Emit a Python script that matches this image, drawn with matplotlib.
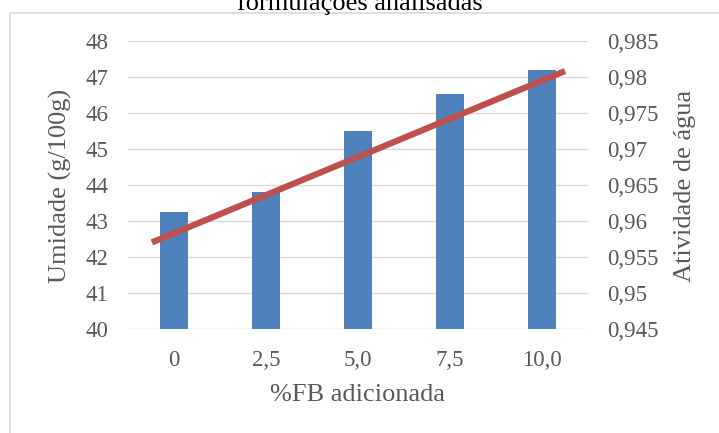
import matplotlib
matplotlib.use("Agg")
import matplotlib.pyplot as plt
import matplotlib.patheffects as pe
from matplotlib.patches import Rectangle
from matplotlib.ticker import FuncFormatter, MultipleLocator
import numpy as np

categories = ["0", "2,5", "5,0", "7,5", "10,0"]
umidade = [43.26, 43.80, 45.49, 46.54, 47.19]
atividade_agua = [0.9583, 0.9636, 0.9689, 0.9742, 0.9795]

BLUE = "#4F81BD"
RED = "#C0504D"
TEXT = "#595959"
GRID = "#D9D9D9"
W, H = 719, 433

plt.rcParams["font.family"] = ["Liberation Serif", "DejaVu Serif"]


def comma(v, _pos=None):
    return f"{round(v, 3):g}".replace(".", ",")


fig = plt.figure(figsize=(W / 100, H / 100), dpi=100)
ax = fig.add_axes([128 / W, 1 - 329 / H, 460 / W, 288 / H])
ax2 = ax.twinx()

# chart border (cut off on the right and bottom)
fig.patches.append(Rectangle((10 / W, -0.1), 1.2, 1 - 13 / H + 0.1,
                             transform=fig.transFigure, fill=False,
                             edgecolor=GRID, linewidth=1.2))
fig.text(0.5, 1 - 10 / H, "formulações analisadas", ha="center", va="baseline",
         fontsize=19, color="black")

x = np.arange(len(categories))
ax.bar(x, umidade, width=0.315, color=BLUE, zorder=2)
ax.set_xlim(-0.5, len(categories) - 0.5)
ax.set_ylim(40, 48)
ax.yaxis.set_major_locator(MultipleLocator(1))
ax.set_xticks(x)
ax.set_xticklabels(categories)
ax.grid(axis="y", color=GRID, linewidth=1, zorder=0)
ax.set_axisbelow(True)

# linear trend of water activity, extended a quarter category each side
coef = np.polyfit(x, atividade_agua, 1)
xt = np.array([-0.24, len(categories) - 1 + 0.25])
ax2.plot(xt, np.polyval(coef, xt), color=RED, linewidth=4.5, solid_capstyle="butt",
         path_effects=[pe.SimplePatchShadow(offset=(1.5, -1.5), alpha=0.25), pe.Normal()])
ax2.set_ylim(0.945, 0.985)
ax2.yaxis.set_major_locator(MultipleLocator(0.005))
ax2.yaxis.set_major_formatter(FuncFormatter(comma))

for a in (ax, ax2):
    for s in a.spines.values():
        s.set_visible(False)
    a.tick_params(length=0, labelsize=16.5, labelcolor=TEXT)
ax.tick_params(axis="y", pad=14)
ax.tick_params(axis="x", pad=15)
ax2.tick_params(axis="y", pad=14)

fig.text(358 / W, 1 - 395 / H, "%FB adicionada", ha="center", va="center",
         fontsize=19, color=TEXT)
fig.text(60 / W, 1 - 186 / H, "Umidade (g/100g)", ha="center", va="center",
         rotation=90, fontsize=19, color=TEXT)
fig.text(685 / W, 1 - 186 / H, "Atividade de água", ha="center", va="center",
         rotation=90, fontsize=19, color=TEXT)

fig.savefig("out.png", dpi=100)
